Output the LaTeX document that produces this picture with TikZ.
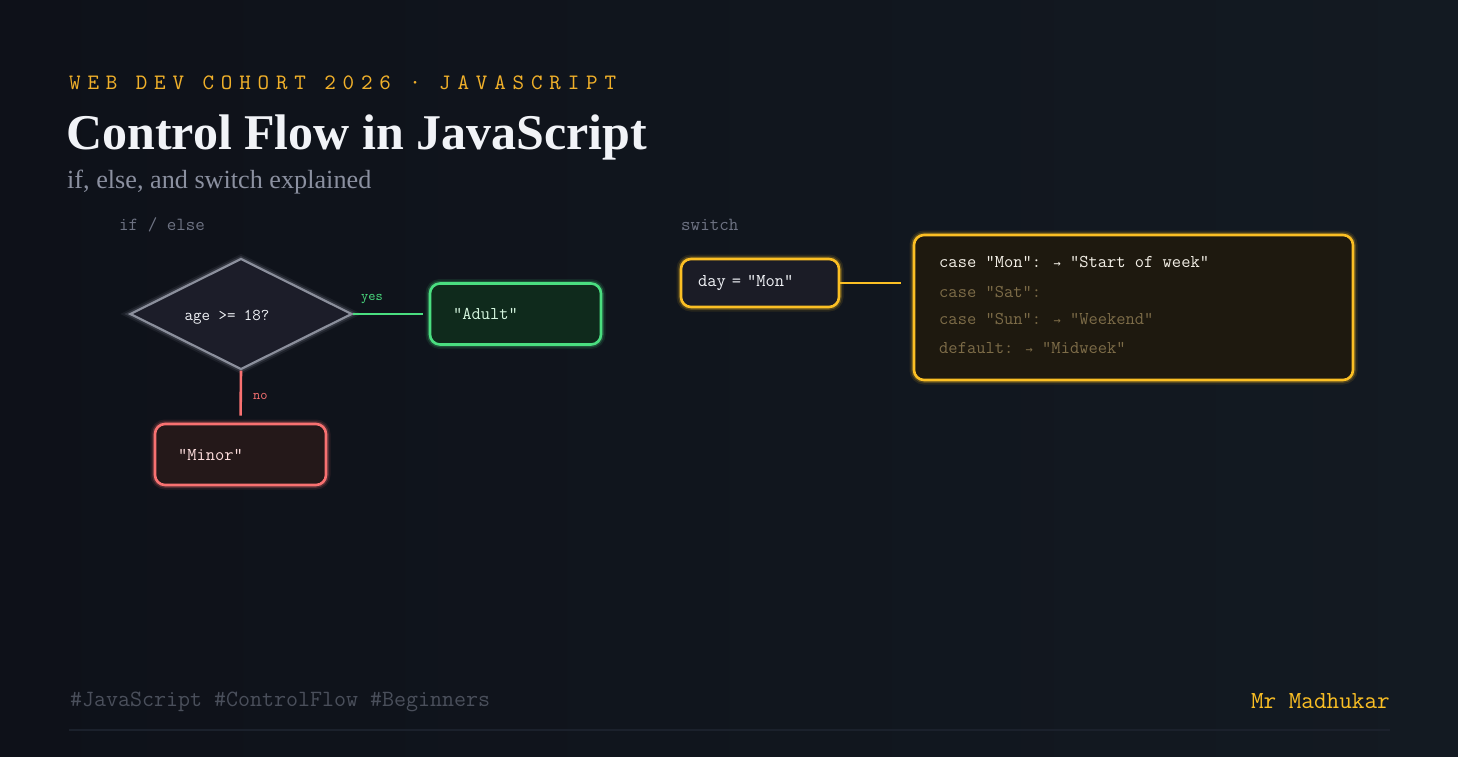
\documentclass[tikz,border=0pt]{standalone}
\usepackage{fontspec}
\setmainfont{Liberation Serif}
\newfontfamily\kickerfont[LetterSpace=31]{lmmono10-regular.otf}
\newfontfamily\arrowfont{DejaVu Sans Mono}
\usetikzlibrary{shapes.geometric}

\definecolor{bgleft}{HTML}{0E1119}
\definecolor{bgright}{HTML}{131A22}
\definecolor{amber}{HTML}{FBBF24}
\definecolor{kicker}{HTML}{F0B02A}
\definecolor{titlewhite}{HTML}{F1F3F7}
\definecolor{subgray}{HTML}{8B90A0}
\definecolor{labelgray}{HTML}{6E7383}
\definecolor{footgray}{HTML}{4A4F5B}
\definecolor{rulegray}{HTML}{1B212C}
\definecolor{condfill}{HTML}{1C1D29}
\definecolor{condline}{HTML}{8B8F9C}
\definecolor{yesgreen}{HTML}{4ADE80}
\definecolor{adultfill}{HTML}{0F2A1C}
\definecolor{adulttext}{HTML}{D4F5DE}
\definecolor{nored}{HTML}{F87171}
\definecolor{minorfill}{HTML}{241819}
\definecolor{minortext}{HTML}{FCDCDC}
\definecolor{dayfill}{HTML}{1B1C26}
\definecolor{casefill}{HTML}{1E190F}
\definecolor{casetext}{HTML}{F3EFE6}
\definecolor{casemuted}{HTML}{7D6C48}

\newcommand{\toarrow}{{\arrowfont\fontsize{12}{12}\selectfont →}}

\tikzset{
  glow/.style={preaction={draw=#1,line width=9pt,opacity=0.10},
               preaction={draw=#1,line width=5.5pt,opacity=0.22}},
  outcome/.style={draw=#1, line width=2.6pt, rounded corners=10pt, glow=#1,
                  minimum height=61pt, text width=125pt, inner xsep=23pt,
                  align=left, font=\ttfamily\fontsize{18}{20}\selectfont},
  codeline/.style={anchor=west, inner sep=0pt, font=\ttfamily\fontsize{18}{20}\selectfont},
  seclabel/.style={anchor=west, inner sep=0pt, text=labelgray, font=\ttfamily\fontsize{18.5}{20}\selectfont},
  branch/.style={line width=2.6pt},
  branchlabel/.style={inner sep=0pt, font=\ttfamily\fontsize{14}{16}\selectfont}
}

\begin{document}
\begin{tikzpicture}[x=1pt, y=-1pt]
  % Background
  \useasboundingbox (0,0) rectangle (1458,757);
  \shade[left color=bgleft, right color=bgright] (0,0) rectangle (1458,757);

  % Heading
  \node[anchor=west, inner sep=0pt, text=kicker, font=\kickerfont\fontsize{22}{24}\selectfont]
    (kicker) at (69,83) {WEB DEV COHORT 2026 · JAVASCRIPT};
  \node[anchor=west, inner sep=0pt, text=titlewhite, font=\bfseries\fontsize{50}{54}\selectfont]
    (title) at (66,137) {Control Flow in JavaScript};
  \node[anchor=west, inner sep=0pt, text=subgray, font=\fontsize{26.2}{30}\selectfont]
    (subtitle) at (67,182) {if, else, and switch explained};

  % if / else
  \node[seclabel] (iflabel) at (119,225) {if / else};
  \node[diamond, aspect=2, minimum width=222pt, minimum height=111pt, inner sep=0pt,
        draw=condline, fill=condfill, line width=2.2pt, glow=condline] (cond) at (241,314) {};
  \node[codeline, anchor=center, text=titlewhite, font=\ttfamily\fontsize{16.5}{18}\selectfont]
    (condtext) at (227,317) {age >= 18?};
  \node[outcome=yesgreen, fill=adultfill, text=adulttext] (adult) at (515.5,314) {"Adult"};
  \node[outcome=nored, fill=minorfill, text=minortext] (minor) at (240.5,454.5) {"Minor"};

  \draw[branch, yesgreen, shorten >=6pt] (cond.east) -- (adult.west)
    node[branchlabel, pos=0.25, above=9pt, text=yesgreen] {yes};
  \draw[branch, nored, shorten >=7pt] (cond.south) -- (minor.north)
    node[branchlabel, midway, right=11pt, text=nored] {no};

  % switch
  \node[seclabel] (switchlabel) at (681,225) {switch};
  \node[outcome=amber, fill=dayfill, text=titlewhite, minimum height=48pt,
        text width=124pt, inner xsep=17pt] (day) at (760,283) {day = "Mon"};
  \node[draw=amber, fill=casefill, line width=2.6pt, rounded corners=10pt, glow=amber,
        minimum width=439pt, minimum height=145pt] (cases) at (1133.5,307.5) {};
  \node[codeline, text=casetext] (case1) at (939,262) {case "Mon": \toarrow{} "Start of week"};
  \node[codeline, text=casemuted] (case2) at (939,292) {case "Sat":};
  \node[codeline, text=casemuted] (case3) at (939,319) {case "Sun": \toarrow{} "Weekend"};
  \node[codeline, text=casemuted] (case4) at (939,348) {default: \toarrow{} "Midweek"};

  \draw[branch, amber, shorten >=12pt] (day.east) -- (day.east -| cases.west);

  % Footer
  \node[anchor=west, inner sep=0pt, text=footgray, font=\ttfamily\fontsize{23.3}{25}\selectfont]
    (tags) at (70,702) {\#JavaScript \#ControlFlow \#Beginners};
  \node[anchor=east, inner sep=0pt, text=amber, font=\ttfamily\fontsize{24.5}{26}\selectfont]
    (author) at (1390,701) {Mr Madhukar};
  \draw[rulegray, line width=1.5pt] (69,730) -- (1390,730);
\end{tikzpicture}
\end{document}
